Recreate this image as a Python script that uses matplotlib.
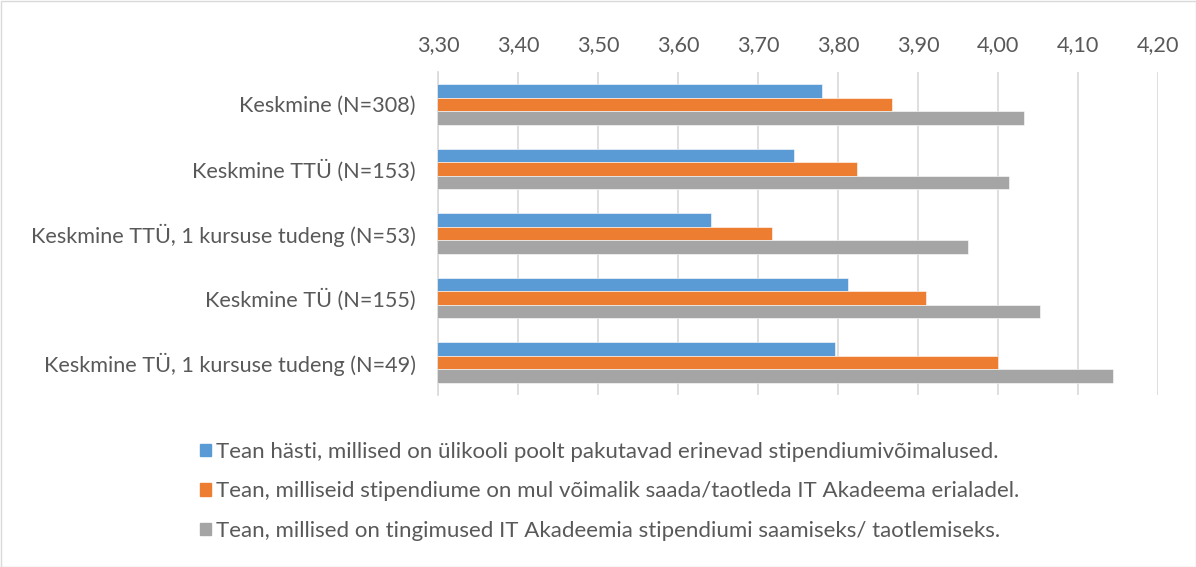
import matplotlib.pyplot as plt
import matplotlib.patches as patches
import numpy as np

plt.rcParams['font.family'] = ['Lato', 'DejaVu Sans']

categories = ["Keskmine (N=308)", "Keskmine TTÜ (N=153)",
              "Keskmine TTÜ, 1 kursuse tudeng (N=53)", "Keskmine TÜ (N=155)",
              "Keskmine TÜ, 1 kursuse tudeng (N=49)"]
series_names = [
    "Tean hästi, millised on ülikooli poolt pakutavad erinevad stipendiumivõimalused.",
    "Tean, milliseid stipendiume on mul võimalik saada/taotleda IT Akadeema erialadel.",
    "Tean, millised on tingimused IT Akadeemia stipendiumi saamiseks/ taotlemiseks.",
]
know_general = [3.78, 3.745, 3.641, 3.813, 3.796]
know_which = [3.867, 3.824, 3.717, 3.910, 4.000]
know_conditions = [4.033, 4.014, 3.962, 4.053, 4.144]
xticks = [3.30, 3.40, 3.50, 3.60, 3.70, 3.80, 3.90, 4.00, 4.10, 4.20]

colors = ['#5B9BD5', '#ED7D31', '#A5A5A5']
text_col = '#595959'
fs = 15.6

fig = plt.figure(figsize=(11.96, 5.67), dpi=100)
ax = fig.add_axes([438/1196, 1 - 395/567, 720/1196, 323/567])

y = np.arange(len(categories))
h = 0.21
for k, vals in enumerate([know_general, know_which, know_conditions]):
    ax.barh(y + (k - 1) * h, vals, height=h, color=colors[k],
            label=series_names[k], zorder=3, edgecolor='white', linewidth=0.4)

ax.set_xlim(3.30, 4.20)
ax.set_ylim(len(categories) - 0.5, -0.5)
ax.set_xticks(xticks)
ax.set_xticklabels([f"{v:.2f}".replace('.', ',') for v in xticks])
ax.xaxis.tick_top()
ax.tick_params(axis='x', length=0, pad=12, labelsize=fs, labelcolor=text_col)
ax.set_yticks(y)
ax.set_yticklabels(categories)
ax.tick_params(axis='y', length=0, pad=16, labelsize=fs, labelcolor=text_col)
ax.grid(axis='x', color='#D9D9D9', linewidth=1.2, zorder=0)
for s in ['top', 'right', 'bottom']:
    ax.spines[s].set_visible(False)
ax.spines['left'].set_color('#D9D9D9')
ax.spines['left'].set_linewidth(1.2)

handles = [patches.Patch(color=c) for c in colors]
leg = fig.legend(handles, series_names, loc='upper left',
                 bbox_to_anchor=(191/1196, 1 - 433/567), frameon=False,
                 fontsize=16, handlelength=0.48, handleheight=0.48,
                 handletextpad=0.25, labelspacing=0.88, borderaxespad=0)
for t in leg.get_texts():
    t.set_color(text_col)

fig.patches.append(patches.Rectangle((0.5/1196, 0.5/567), 1 - 1/1196, 1 - 1/567,
                                     transform=fig.transFigure, fill=False,
                                     edgecolor='#D9D9D9', linewidth=1))

fig.savefig('out.png', dpi=100)
